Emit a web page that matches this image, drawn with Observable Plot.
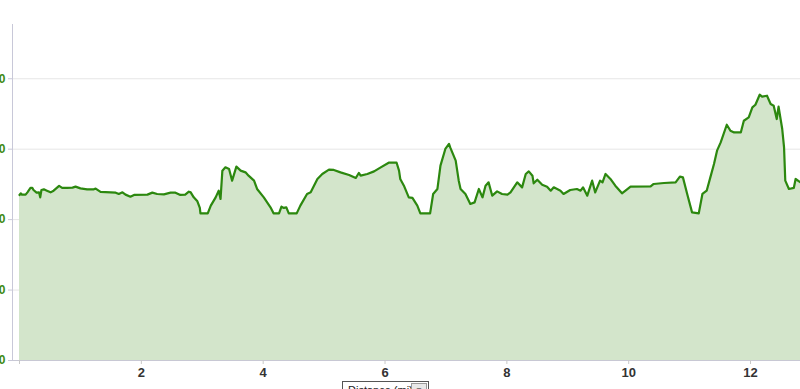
<!DOCTYPE html>
<html>
<head>
<meta charset="utf-8">
<script src="https://cdn.jsdelivr.net/npm/d3@7"></script>
<script src="https://cdn.jsdelivr.net/npm/@observablehq/plot@0.6"></script>
<style>
  html, body { margin: 0; padding: 0; background: white; overflow: hidden; width: 800px; height: 389px; }
  #wrap { position: relative; width: 800px; height: 389px; }
  #dist {
    position: absolute; left: 342px; top: 381px; width: 87px; height: 18px;
    border: 1px solid #555; background: #fff; box-sizing: border-box;
    font: 11px "Liberation Sans", Arial, sans-serif; color: #222;
    padding: 2px 0 0 5px; white-space: nowrap;
  }
  #dist span {
    position: absolute; right: 1px; top: 1px; width: 14px; height: 14px;
    border: 1px solid #999; background: #e8e8e8; font-size: 8px; text-align: center; line-height: 14px;
  }
</style>
</head>
<body>
<div id="wrap"></div>
<script>
const miles = [0.00,0.02,0.04,0.10,0.13,0.18,0.21,0.23,0.28,0.32,0.34,0.36,0.40,0.45,0.51,0.56,0.65,0.70,0.78,0.87,0.92,1.00,1.11,1.22,1.25,1.33,1.58,1.63,1.69,1.74,1.82,1.88,2.10,2.18,2.26,2.37,2.48,2.56,2.64,2.72,2.78,2.81,2.86,2.92,2.96,2.97,3.09,3.14,3.22,3.27,3.30,3.33,3.38,3.44,3.49,3.56,3.63,3.71,3.76,3.85,3.90,4.01,4.12,4.17,4.26,4.30,4.34,4.38,4.42,4.55,4.61,4.72,4.78,4.89,4.97,5.08,5.16,5.27,5.41,5.52,5.57,5.60,5.71,5.82,5.93,6.06,6.19,6.23,6.25,6.31,6.39,6.45,6.53,6.58,6.74,6.79,6.86,6.91,6.99,7.05,7.07,7.16,7.21,7.24,7.32,7.40,7.47,7.54,7.60,7.65,7.70,7.76,7.84,7.92,8.01,8.06,8.17,8.25,8.31,8.36,8.42,8.44,8.50,8.58,8.66,8.72,8.77,8.88,8.93,9.04,9.15,9.21,9.25,9.32,9.40,9.45,9.53,9.57,9.62,9.70,9.78,9.89,10.03,10.36,10.41,10.58,10.77,10.84,10.89,10.96,11.04,11.15,11.21,11.28,11.34,11.40,11.45,11.51,11.61,11.67,11.73,11.84,11.89,11.97,12.03,12.08,12.15,12.19,12.27,12.33,12.38,12.43,12.46,12.52,12.55,12.57,12.63,12.71,12.74,12.82];
const elevation = [235.0,237.3,235.5,235.5,238.7,245.0,245.0,242.1,238.3,238.7,231.6,242.1,243.0,241.1,238.7,241.1,247.8,245.0,245.0,245.4,246.8,244.4,243.0,243.0,244.0,239.3,238.3,236.4,238.7,235.5,232.6,235.0,235.5,238.3,236.4,235.9,238.3,238.3,235.0,235.5,239.7,238.7,231.6,226.0,216.6,208.9,208.9,219.9,231.6,241.1,229.4,269.5,274.2,271.9,255.3,275.2,269.5,267.1,262.4,255.3,243.5,231.6,217.4,208.9,208.9,218.4,216.6,217.4,208.9,208.9,219.9,236.4,238.7,257.7,264.8,270.9,270.5,267.1,263.4,259.1,266.2,262.4,264.8,268.5,274.2,280.8,280.8,269.5,257.7,248.2,231.6,230.8,219.9,208.9,208.9,236.4,243.5,276.6,300.3,307.4,302.5,283.7,255.3,243.5,236.4,222.3,224.5,243.5,231.6,248.2,252.9,234.0,240.1,236.4,235.5,238.7,252.9,245.8,264.8,268.5,262.4,251.5,256.7,249.6,246.8,241.1,245.8,241.1,236.4,242.1,243.5,241.1,245.8,234.0,255.3,238.7,255.3,252.9,264.8,257.7,248.2,237.3,246.8,247.2,250.6,252.0,252.9,261.0,260.0,236.4,210.3,208.9,236.4,241.1,260.0,279.0,297.9,309.6,334.7,326.2,323.8,323.8,340.4,345.1,359.3,363.1,377.3,374.5,375.9,364.1,361.7,342.8,360.3,328.6,302.5,255.3,243.5,245.0,257.7,252.9];
const xTicks = [0, 2, 4, 6, 8, 10, 12];
const xTickLabels = ["", "2", "4", "6", "8", "10", "12"];
const yTicks = [0, 100, 200, 300, 400];
const yTickLabels = ["0", "100", "200", "300", "400"];
const xLabel = "Distance (mi)";

const data = miles.map((m, i) => ({mi: m, elev: elevation[i]}));

const chart = Plot.plot({
  width: 800,
  height: 389,
  marginLeft: 12,
  marginRight: 0,
  marginTop: 24,
  marginBottom: 29,
  style: {fontFamily: "'Liberation Sans', Arial, sans-serif", background: "white"},
  x: {domain: [-0.115, 12.82]},
  y: {domain: [0, 477]},
  marks: [
    Plot.gridY(yTicks, {stroke: "#e6e6e6", strokeOpacity: 1}),
    Plot.areaY(data, {x: "mi", y: "elev", fill: "#d3e5cb"}),
    Plot.lineY(data, {x: "mi", y: "elev", stroke: "#2c880f", strokeWidth: 2.2}),
    Plot.ruleY([0], {stroke: "#c8c8d4"}),
    Plot.frame({anchor: "left", stroke: "#c8c8d8"}),
    Plot.axisY({ticks: yTicks, tickFormat: d => yTickLabels[yTicks.indexOf(d)], tickSize: 4, tickPadding: 3,
      stroke: "#c8c8d8", fill: "#3d8a14", fontWeight: "bold", fontSize: 12, label: null}),
    Plot.axisX({ticks: xTicks, tickFormat: d => xTickLabels[xTicks.indexOf(d)], tickSize: 4, tickPadding: 3,
      stroke: "#c8c8c8", fill: "#333", fontWeight: "bold", fontSize: 13, label: null})
  ]
});

const wrap = document.getElementById("wrap");
wrap.appendChild(chart);
const box = document.createElement("div");
box.id = "dist";
box.textContent = xLabel;
const btn = document.createElement("span");
btn.textContent = "▼";
box.appendChild(btn);
wrap.appendChild(box);
</script>
</body>
</html>
